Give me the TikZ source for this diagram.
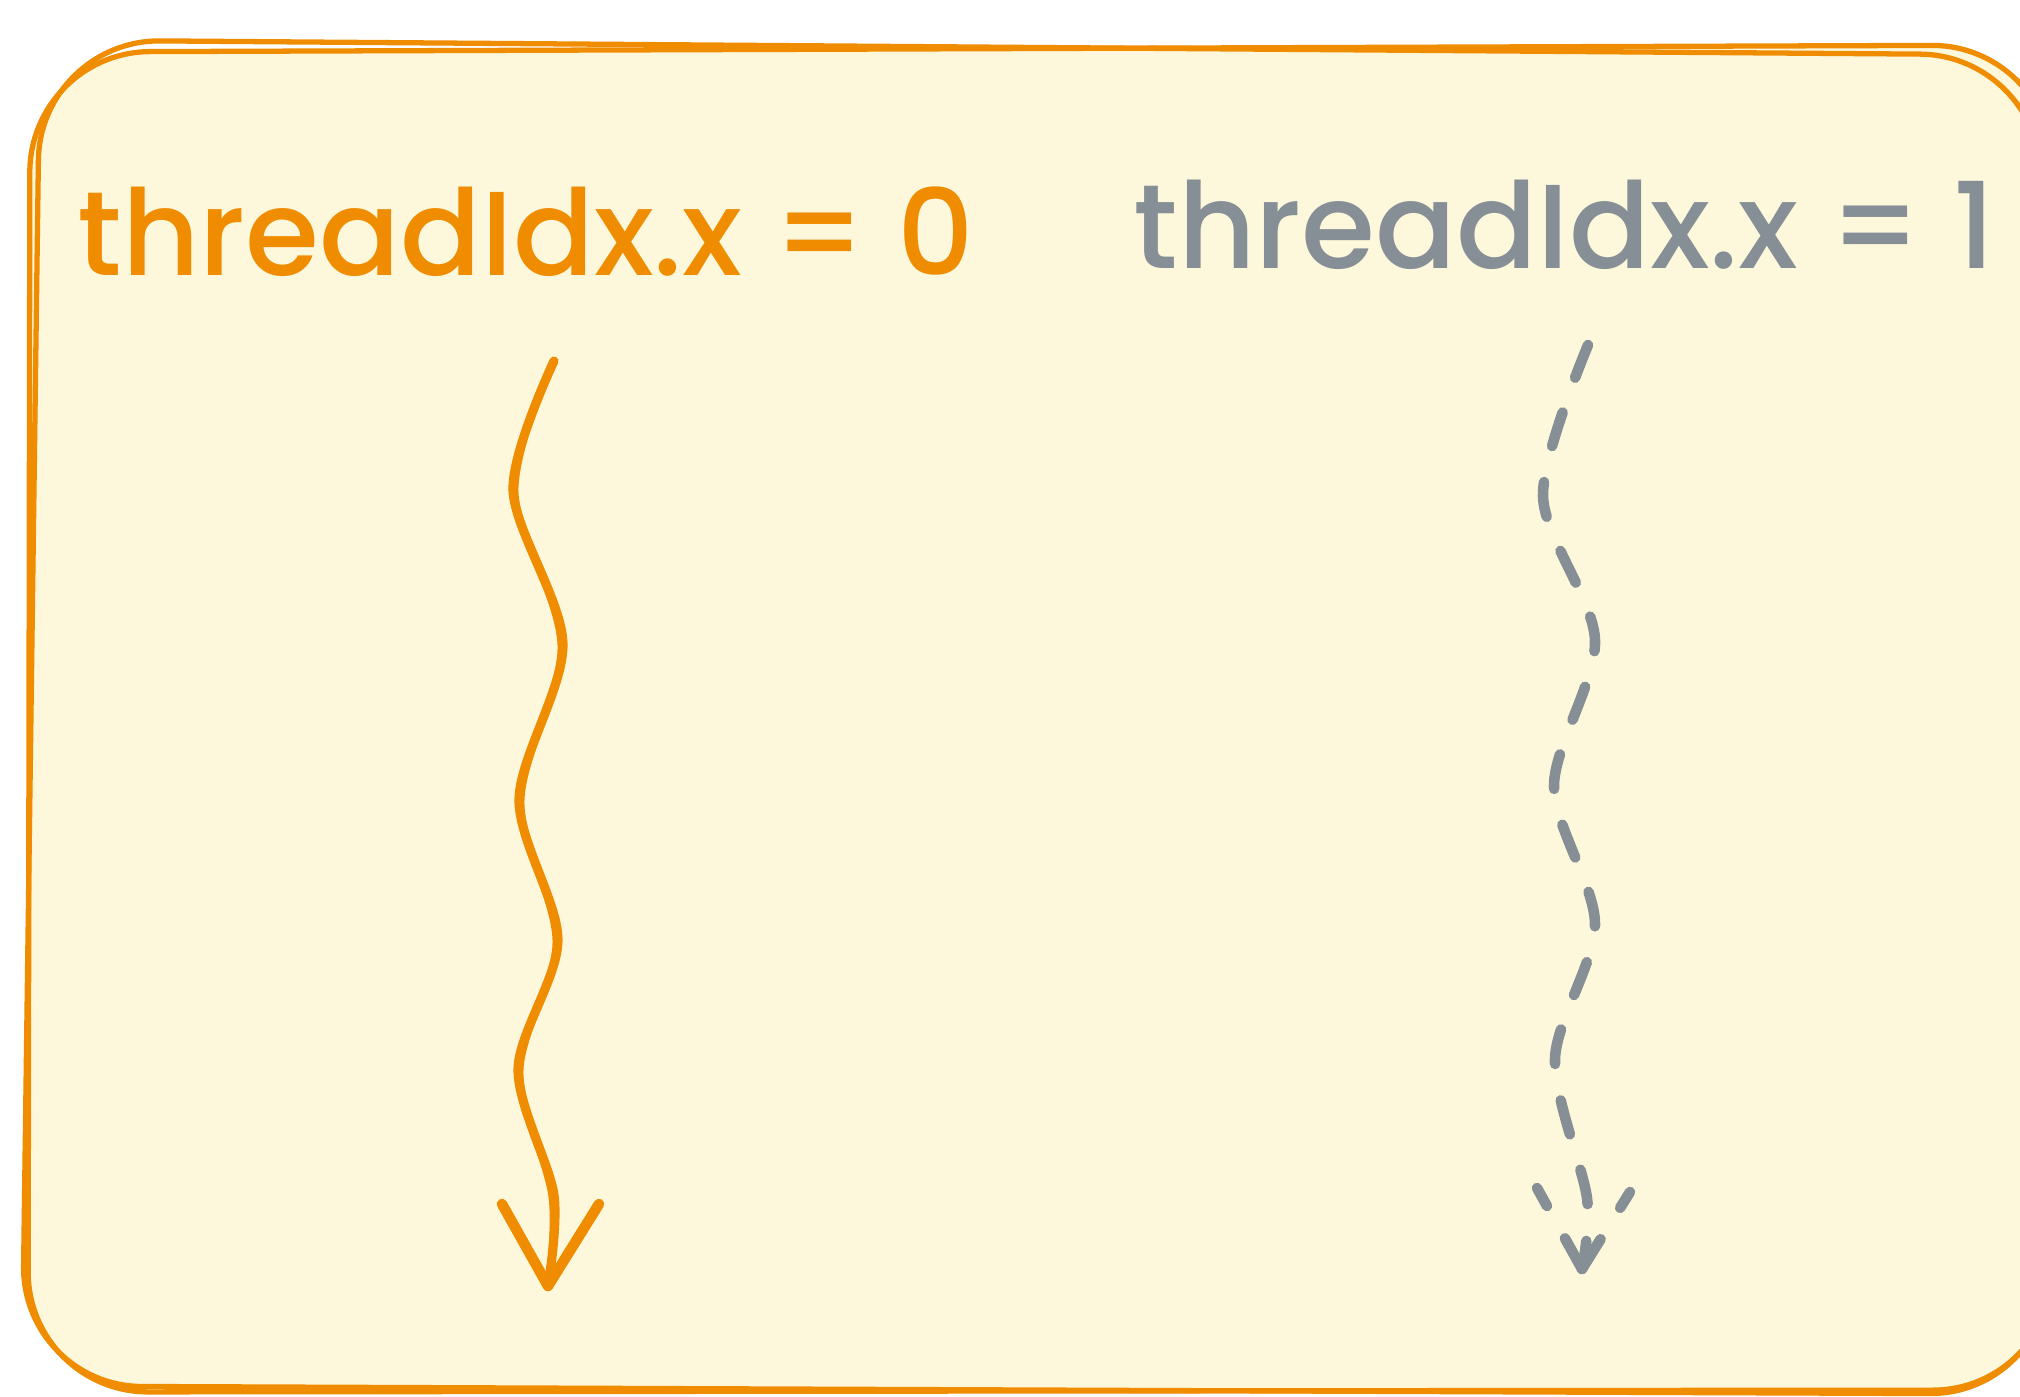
\documentclass[tikz,border=0pt]{standalone}
\usepackage{fontspec}
\newfontfamily\handfont{Poppins}[UprightFont=* Medium]
\usetikzlibrary{positioning}

\definecolor{sketchorange}{HTML}{F08C00}
\definecolor{sketchgray}{HTML}{868E96}
\definecolor{notefill}{HTML}{FDF8DC}

\tikzset{
    frame/.style={draw=sketchorange, line width=1.5pt, rounded corners=1.2cm},
    threadlabel/.style={font=\handfont\fontsize{34}{40}\selectfont, anchor=base west, inner sep=0pt},
    activepath/.style={draw=sketchorange, line width=2.6pt, line cap=round, line join=round},
    idlepath/.style={draw=sketchgray, line width=3pt, line cap=round,
        dash pattern=on 10pt off 10.5pt}
}

\begin{document}
\begin{tikzpicture}[x=0.01cm, y=-0.01cm]
    \useasboundingbox (0,0) rectangle (2020,1396);
    \fill[white] (0,0) rectangle (2020,1396);

    % note card, drawn twice for the sketchy edge
    \fill[notefill, rounded corners=1.2cm] (30,50) -- (2053,48) -- (2053,1391) -- (28,1391) -- cycle;
    \draw[frame] (30,52) -- (2052,45) -- (2053,1390) -- (28,1392) -- cycle;
    \draw[frame] (40,40) -- (2040,55) -- (2050,1394) -- (22,1386) -- cycle;

    \node[threadlabel, text=sketchorange] (tid0) at (77,275) {threadIdx.x = 0};
    \node[threadlabel, text=sketchgray] (tid1) at (1133,268) {threadIdx.x = 1};

    % running thread
    \coordinate (run start) at (554,361);
    \coordinate (run tip) at (548,1286);
    \draw[activepath] plot[smooth] coordinates {(run start) (513,490) (563,644) (519,799)
        (558,940) (518,1069) (554,1195) (run tip)};
    \draw[activepath, line width=1.4pt] plot[smooth] coordinates {(551,363) (516,492) (560,646)
        (522,801) (555,942) (521,1071) (551,1197) (run tip)};
    \draw[activepath, line width=3pt] (502,1204) -- (run tip) -- (599,1204);

    % waiting thread
    \coordinate (wait start) at (1588,345);
    \coordinate (wait tip) at (1582,1269);
    \draw[idlepath] plot[smooth] coordinates {(wait start) (1543,496) (1595,640) (1554,786)
        (1595,924) (1555,1059) (1587,1198) (wait tip)};
    \draw[idlepath] (wait tip) -- (1537,1188);
    \draw[idlepath] (wait tip) -- (1630,1192);
\end{tikzpicture}
\end{document}
